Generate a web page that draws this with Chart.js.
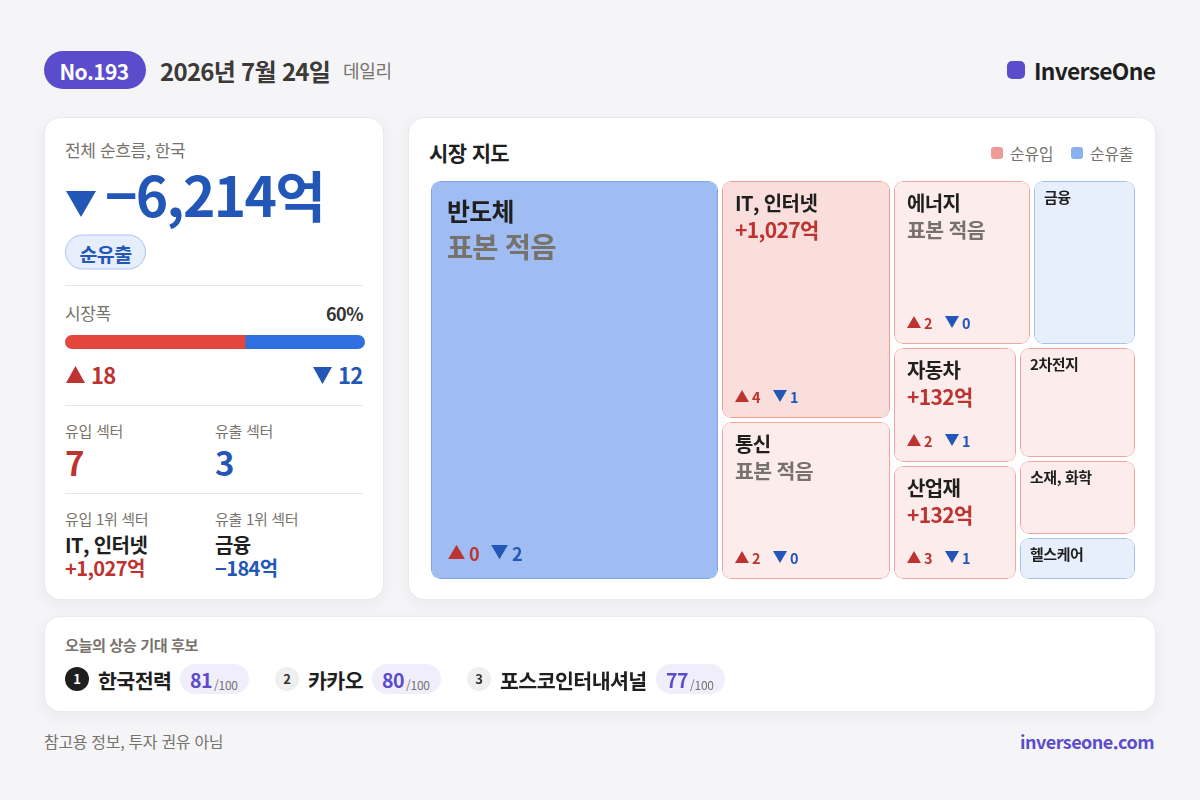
<!DOCTYPE html>
<html lang="ko">
<head>
<meta charset="utf-8">
<title>InverseOne No.193</title>
<script src="https://cdn.jsdelivr.net/npm/chart.js@4"></script>
<style>
  * { box-sizing: border-box; }
  html, body { margin: 0; width: 1200px; height: 800px; overflow: hidden; background: #f5f5f8; }
  body { position: relative; font-family: "Noto Sans CJK KR", "Noto Sans", sans-serif; color: #1f1f1f; }
  .card { position: absolute; background: #fff; border: 1px solid #e9e9ee; border-radius: 16px; box-shadow: 0 4px 16px rgba(20, 20, 40, .05); }
  .t { position: absolute; line-height: 1; white-space: nowrap; transform: translateY(-50%); letter-spacing: -0.02em; }
  .b { font-weight: 700; letter-spacing: -0.03em; }
  .muted { color: #77736c; }
  .red { color: #bd3330; }
  .blue { color: #2257b8; }
  .purple { color: #5b4ccc; }
  .rule { position: absolute; left: 65px; width: 298px; height: 1px; background: #e5e5e5; }
  .up, .down { position: absolute; display: inline-block; }
  .up { background: #bd3330; clip-path: polygon(50% 0, 100% 100%, 0 100%); }
  .down { background: #2257b8; clip-path: polygon(0 0, 100% 0, 50% 100%); }
  canvas { position: absolute; display: block; }
  #breadthWrap { position: absolute; left: 65px; top: 335px; width: 300px; height: 14px; border-radius: 7px; overflow: hidden; }
  #breadthWrap canvas { left: 0; top: 0; }
  .sq { position: absolute; width: 12px; height: 12px; top: 147px; border-radius: 3px; }
  .pill { position: absolute; height: 30px; width: 69px; top: 664px; border-radius: 15px; background: #f0eefb; }
  .rank { position: absolute; width: 24px; height: 24px; top: 667px; border-radius: 50%; background: #efefef; color: #333; font-size: 13px; font-weight: 700; text-align: center; line-height: 24px; }
  .rank.first { background: #1f1f1f; color: #fff; }
</style>
</head>
<body>

<div class="t b" style="left:44px;top:70px;width:102px;height:38px;padding-right:2px;border-radius:19px;background:#5b4ccc;color:#fff;font-size:21px;line-height:41px;text-align:center">No.193</div>
<div class="t b" style="left:160px;top:71px;font-size:24px;color:#3b3a36">2026년 7월 24일</div>
<div class="t muted" style="left:343px;top:70px;font-size:18px">데일리</div>
<div style="position:absolute;left:1007px;top:61px;width:18px;height:18px;border-radius:5px;background:#5b4ccc"></div>
<div class="t b" style="left:1034px;top:71px;font-size:22.8px">InverseOne</div>

<div class="card" style="left:44px;top:117px;width:340px;height:483px"></div>
<div class="card" style="left:408px;top:117px;width:748px;height:483px"></div>
<div class="card" style="left:44px;top:616px;width:1112px;height:96px"></div>

<div class="t muted" style="left:65px;top:149px;font-size:17px">전체 순흐름, 한국</div>
<span class="down" style="left:66px;top:191px;width:30px;height:26px"></span>
<div class="t b blue" style="left:105px;top:193px;font-size:55px">−6,214억</div>
<div class="t b blue" style="left:65px;top:252px;width:81px;height:35px;border:1px solid #a9c4f3;border-radius:18px;background:#e6eefb;font-size:19.5px;line-height:36px;text-align:center">순유출</div>
<div class="rule" style="top:285px"></div>

<div class="t muted" style="left:65px;top:312px;font-size:17px">시장폭</div>
<div class="t b" style="right:837px;top:313px;font-size:18px;color:#333">60%</div>
<div id="breadthWrap"><canvas id="breadthChart" width="300" height="14"></canvas></div>
<span class="up" style="left:66px;top:366px;width:19px;height:17px"></span>
<div class="t b red" id="upCount" style="left:91px;top:374px;font-size:22px"></div>
<span class="down" style="left:313px;top:367px;width:19px;height:17px"></span>
<div class="t b blue" id="downCount" style="left:338px;top:374px;font-size:22px"></div>
<div class="rule" style="top:405px"></div>

<div class="t muted" style="left:65px;top:430px;font-size:15px">유입 섹터</div>
<div class="t muted" style="left:215px;top:430px;font-size:15px">유출 섹터</div>
<div class="t b red" style="left:65px;top:462px;font-size:33px">7</div>
<div class="t b blue" style="left:215px;top:462px;font-size:33px">3</div>
<div class="rule" style="top:493px"></div>

<div class="t muted" style="left:65px;top:518px;font-size:15px">유입 1위 섹터</div>
<div class="t muted" style="left:215px;top:518px;font-size:15px">유출 1위 섹터</div>
<div class="t b" style="left:65px;top:545px;font-size:20px">IT, 인터넷</div>
<div class="t b" style="left:215px;top:545px;font-size:20px">금융</div>
<div class="t b red" style="left:65px;top:568px;font-size:20px">+1,027억</div>
<div class="t b blue" style="left:215px;top:568px;font-size:20px">−184억</div>

<div class="t b" style="left:429px;top:152px;font-size:21px">시장 지도</div>
<span class="sq" style="left:991px;background:#f09a96"></span>
<div class="t muted" style="left:1010px;top:153px;font-size:16px">순유입</div>
<span class="sq" style="left:1071px;background:#8ab0f0"></span>
<div class="t muted" style="left:1090px;top:153px;font-size:16px">순유출</div>

<canvas id="mapChart" width="708" height="402" style="left:429px;top:179px"></canvas>
<div id="mapLabels"></div>

<div class="t b muted" style="left:65px;top:645px;font-size:15.2px">오늘의 상승 기대 후보</div>
<div id="picks"></div>

<div class="t muted" style="left:44px;top:741px;font-size:16px">참고용 정보, 투자 권유 아님</div>
<div class="t b purple" style="right:46px;top:741px;font-size:18px">inverseone.com</div>

<script>
// 시장 지도 타일
const tileNames = ['반도체', 'IT, 인터넷', '통신', '에너지', '금융', '자동차', '산업재', '2차전지', '소재, 화학', '헬스케어'];
const tileWeights = [116.98, 41.21, 27.53, 23.38, 17.54, 14.87, 14.74, 13.45, 9.16, 5.36];
const tileTones = [-2, 2, 1, 1, -1, 1, 1, 1, 1, -1];
const tileFlows = [null, 1027, null, null, -184, 132, 132, null, null, null];
const tileUps = [0, 4, 2, 2, 0, 2, 3, 0, 0, 0];
const tileDowns = [2, 1, 0, 0, 0, 1, 1, 0, 0, 0];

// 시장폭
const breadthUp = [18];
const breadthDown = [12];

// 상승 기대 후보
const pickNames = ['한국전력', '카카오', '포스코인터내셔널'];
const pickScores = [81, 80, 77];

const toneFill = { '-2': '#9fbdf2', '-1': '#e8effc', '1': '#fdecec', '2': '#fadedb' };
const toneEdge = { '-2': '#7ea3ea', '-1': '#a5c1f3', '1': '#f3a49e', '2': '#f09c96' };
const TILE_GAP = 4;

// 가중치로 타일 영역 나누기 (열/행 번갈아)
const mapTree = [[0], [1, 2], [[3, 4], [[5, 6], [7, 8, 9]]]];
const treeWeight = n => Array.isArray(n) ? n.reduce((s, c) => s + treeWeight(c), 0) : tileWeights[n];
const tileBoxes = [];
function splitTile(node, x0, x1, y0, y1, across) {
    if (!Array.isArray(node)) {
        tileBoxes[node] = { x0, x1, y0, y1 };
        return;
    }
    const total = treeWeight(node);
    let pos = across ? x0 : y0;
    node.forEach(child => {
        const share = treeWeight(child) / total * (across ? x1 - x0 : y1 - y0);
        if (across) splitTile(child, pos, pos + share, y0, y1, false);
        else splitTile(child, x0, x1, pos, pos + share, true);
        pos += share;
    });
}
splitTile(mapTree, 0, 1, 0, 1, true);

// 타일 가장자리를 정수 픽셀로
function tileEdges(chart, box) {
    return {
        left: Math.round(chart.scales.x.getPixelForValue(box.x0)) + TILE_GAP / 2,
        right: Math.round(chart.scales.x.getPixelForValue(box.x1)) - TILE_GAP / 2,
        top: Math.round(chart.scales.y.getPixelForValue(box.y0)) + TILE_GAP / 2,
        bottom: Math.round(chart.scales.y.getPixelForValue(box.y1)) - TILE_GAP / 2
    };
}

// 막대 폭을 x 범위에 맞춘 floating bar
class TileController extends Chart.BarController {
    updateElements(bars, start, count, mode) {
        super.updateElements(bars, start, count, mode);
        for (let i = start; i < start + count; i++) {
            const e = tileEdges(this.chart, tileBoxes[i]);
            bars[i].x = (e.left + e.right) / 2;
            bars[i].width = e.right - e.left;
            bars[i].y = e.top;
            bars[i].base = e.bottom;
            bars[i].height = e.bottom - e.top;
        }
    }
}
TileController.id = 'tile';
TileController.defaults = Chart.BarController.defaults;
TileController.overrides = Chart.BarController.overrides;
Chart.register(TileController);

const mapChart = new Chart(document.getElementById('mapChart'), {
    type: 'tile',
    data: {
        datasets: [{
            data: tileBoxes.map(b => ({ x: (b.x0 + b.x1) / 2, y: [b.y0, b.y1] })),
            backgroundColor: tileTones.map(t => toneFill[t]),
            borderColor: tileTones.map(t => toneEdge[t]),
            borderWidth: 1,
            borderRadius: 9,
            borderSkipped: false
        }]
    },
    options: {
        responsive: false,
        animation: false,
        layout: { padding: 0 },
        plugins: { legend: { display: false }, tooltip: { enabled: false } },
        scales: {
            x: { type: 'linear', min: 0, max: 1, offset: false, display: false },
            y: { type: 'linear', min: 0, max: 1, reverse: true, display: false }
        }
    }
});

new Chart(document.getElementById('breadthChart'), {
    type: 'bar',
    data: {
        labels: ['시장폭'],
        datasets: [
            { data: breadthUp, backgroundColor: '#e2463d', barPercentage: 1, categoryPercentage: 1 },
            { data: breadthDown, backgroundColor: '#2f6fe0', barPercentage: 1, categoryPercentage: 1 }
        ]
    },
    options: {
        indexAxis: 'y',
        responsive: false,
        animation: false,
        layout: { padding: 0 },
        plugins: { legend: { display: false }, tooltip: { enabled: false } },
        scales: {
            x: { stacked: true, min: 0, max: breadthUp[0] + breadthDown[0], display: false },
            y: { stacked: true, display: false }
        }
    }
});

document.getElementById('upCount').textContent = breadthUp[0];
document.getElementById('downCount').textContent = breadthDown[0];

// 타일 라벨
const mapLabels = document.getElementById('mapLabels');
const canvasLeft = 429, canvasTop = 179;
function addLabel(html, left, top, css) {
    const el = document.createElement('div');
    el.className = 't b';
    el.style.cssText = `left:${left}px;top:${top}px;${css}`;
    el.innerHTML = html;
    mapLabels.appendChild(el);
}
function addMark(kind, left, top, size) {
    const el = document.createElement('span');
    el.className = kind;
    el.style.cssText = `left:${left}px;top:${top - size * 0.43}px;width:${size}px;height:${size * 0.86}px`;
    mapLabels.appendChild(el);
}
function formatFlow(v) {
    return (v > 0 ? '+' : '−') + Math.abs(v).toLocaleString('en-US') + '억';
}
tileNames.forEach((name, i) => {
    const e = tileEdges(mapChart, tileBoxes[i]);
    const left = canvasLeft + e.left;
    const top = canvasTop + e.top;
    const bottom = canvasTop + e.bottom;
    const w = e.right - e.left;
    if (w < 120) {
        addLabel(name, left + 10, top + 15, 'font-size:15px');
        return;
    }
    const big = w > 200;
    const pad = big ? 16 : 13;
    const noFlow = tileFlows[i] === null;
    const subSize = big ? 28.5 : (noFlow ? 20.5 : 21);
    const subColor = noFlow ? '#77736c' : '#bd3330';
    addLabel(name, left + pad, top + (big ? 29 : 22), `font-size:${big ? 25 : 20}px`);
    addLabel(noFlow ? '표본 적음' : formatFlow(tileFlows[i]), left + pad, top + (big ? 65 : 48), `font-size:${subSize}px;color:${subColor}`);
    const rowY = bottom - (big ? 26 : 21);
    const markSize = big ? 17 : 14;
    const fontSize = big ? 18 : 14.5;
    const step = big ? 43 : 38;
    const markLeft = left + pad + (big ? 1 : 0);
    const numLeft = markLeft + markSize + (big ? 4 : 3);
    addMark('up', markLeft, rowY - 1, markSize);
    addLabel(tileUps[i], numLeft, rowY, `font-size:${fontSize}px;color:#bd3330`);
    addMark('down', markLeft + step, rowY - 1, markSize);
    addLabel(tileDowns[i], numLeft + step, rowY, `font-size:${fontSize}px;color:#2257b8`);
});

// 후보 목록
const picks = document.getElementById('picks');
const pickLefts = [65, 275, 467];
const pillOffsets = [115, 97, 189];
pickNames.forEach((name, i) => {
    const x = pickLefts[i];
    const px = x + pillOffsets[i];
    picks.insertAdjacentHTML('beforeend', `
        <div class="rank${i === 0 ? ' first' : ''}" style="left:${x}px">${i + 1}</div>
        <div class="t b" style="left:${x + 33}px;top:680px;font-size:20.6px">${name}</div>
        <div class="pill" style="left:${px}px"></div>
        <div class="t b purple" style="left:${px + 10}px;top:680px;font-size:19.5px">${pickScores[i]}</div>
        <div class="t muted" style="left:${px + 34}px;top:685px;font-size:12px">/100</div>
    `);
});
</script>
</body>
</html>
